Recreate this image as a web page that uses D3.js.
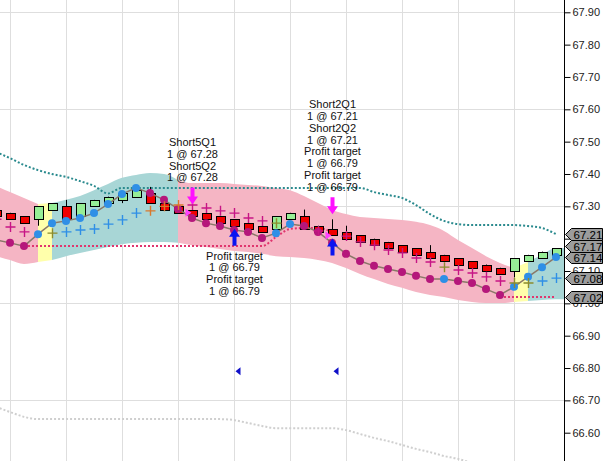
<!DOCTYPE html>
<html><head><meta charset="utf-8">
<script src="https://cdn.jsdelivr.net/npm/d3@7"></script>
<style>
html,body{margin:0;padding:0;background:#fff;}
svg{display:block;font-family:"Liberation Sans",Arial,sans-serif;}
</style></head><body>
<svg id="chart" width="610" height="461"></svg>
<script>
// ---------- DATA ----------
const opens  = [67.29,67.28,67.27,67.26,67.29,67.30,67.27,67.30,67.31,67.32,67.33,67.34,67.31,67.30,67.29,67.28,67.27,67.26,67.25,67.24,67.23,67.26,67.27,67.24,67.23,67.22,67.21,67.20,67.19,67.18,67.17,67.16,67.15,67.14,67.13,67.12,67.11,67.10,67.13,67.14,67.15];
const highs  = [67.29,67.28,67.27,67.30,67.31,67.32,67.31,67.32,67.33,67.34,67.35,67.36,67.31,67.30,67.29,67.28,67.27,67.26,67.25,67.24,67.27,67.28,67.29,67.24,67.26,67.24,67.21,67.20,67.19,67.18,67.17,67.18,67.15,67.14,67.13,67.12,67.11,67.14,67.15,67.16,67.17];
const lows   = [67.27,67.26,67.25,67.24,67.29,67.26,67.26,67.30,67.31,67.31,67.33,67.31,67.29,67.28,67.27,67.26,67.25,67.24,67.23,67.22,67.23,67.26,67.23,67.22,67.21,67.20,67.19,67.18,67.17,67.16,67.15,67.14,67.13,67.12,67.11,67.10,67.09,67.08,67.13,67.14,67.15];
const closes = [67.27,67.26,67.25,67.30,67.31,67.26,67.31,67.32,67.33,67.34,67.35,67.31,67.29,67.28,67.27,67.26,67.25,67.24,67.23,67.22,67.27,67.28,67.23,67.22,67.21,67.20,67.19,67.18,67.17,67.16,67.15,67.14,67.13,67.12,67.11,67.10,67.09,67.14,67.15,67.16,67.17];

// trend line with coloured dots
const dotValues = [67.196,67.187,67.177,67.214,67.248,67.255,67.264,67.279,67.307,67.338,67.357,67.341,67.320,67.292,67.264,67.248,67.239,67.227,67.221,67.202,67.217,67.245,67.239,67.221,67.187,67.153,67.131,67.116,67.106,67.097,67.085,67.075,67.075,67.069,67.063,67.044,67.026,67.051,67.082,67.112,67.143];
const dotKind   = ["P","P","P","B","B","B","B","B","B","B","B","P","P","P","P","P","P","P","P","P","B","B","P","P","P","P","P","P","P","P","P","P","B","P","P","P","P","B","B","B","B"];

// plus markers
const plusValues = [67.260,67.236,67.221,null,67.217,67.221,67.227,67.230,67.245,67.258,67.279,67.286,67.300,67.304,67.304,67.295,67.286,67.279,67.264,67.255,67.248,null,null,67.224,null,67.208,67.190,67.180,67.165,67.156,67.140,67.128,67.112,67.103,67.094,67.082,67.069,67.063,67.063,67.069,67.078];
const plusKind   = ["M","M","M",null,"O","B","B","B","B","B","B","R","R","R","M","M","M","M","M","M","O",null,null,"M",null,"M","M","M","M","M","M","M","O","M","M","M","M","O","O","B","B"];

// cloud band
const bandTop = [67.363,67.344,67.326,67.307,67.310,67.320,67.332,67.350,67.369,67.388,67.397,67.403,67.400,67.381,67.372,67.372,67.372,67.369,67.366,67.363,67.357,67.350,67.332,67.310,67.289,67.276,67.267,67.264,67.261,67.258,67.252,67.242,67.224,67.196,67.171,67.146,67.125,67.109,67.128,67.150,67.171];
const bandBottom = [67.146,67.134,67.122,67.128,67.134,67.146,67.156,67.165,67.174,67.183,67.187,67.190,67.190,67.187,67.180,67.174,67.168,67.162,67.159,67.153,67.146,67.143,67.140,67.134,67.125,67.109,67.091,67.075,67.060,67.048,67.035,67.026,67.020,67.010,67.004,67.001,67.001,67.004,67.007,67.010,67.013];
const bandState = ["dn","dn","dn","tr","up","up","up","up","up","up","up","up","up","dn","dn","dn","dn","dn","dn","dn","dn","dn","dn","dn","dn","dn","dn","dn","dn","dn","dn","dn","dn","dn","dn","dn","dn","tr","up","up","up"];

// dotted lines
const tealLine = [67.468,67.449,67.428,67.412,67.400,67.391,67.378,67.363,67.340,67.357,67.357,67.357,67.357,67.357,67.357,67.357,67.357,67.357,67.357,67.357,67.357,67.357,67.357,67.357,67.357,67.357,67.357,67.344,67.335,67.326,67.304,67.276,67.255,67.245,67.242,67.242,67.242,67.242,67.239,67.233,67.214];
const redLine = [null,null,67.177,67.177,67.177,67.177,67.177,67.177,67.177,67.177,67.177,67.177,67.177,67.177,67.177,67.177,67.177,67.177,67.177,67.177,67.205,67.230,67.233,67.233,67.220,null,null,null,null,null,null,null,null,null,null,null,67.02,67.02,67.02,67.02,67.02];
const grayLine = [66.680,66.664,66.649,66.642,66.642,66.642,66.642,66.642,66.642,66.642,66.642,66.642,66.642,66.642,66.642,66.642,66.642,66.639,66.630,66.621,66.614,66.614,66.614,66.614,66.614,66.608,66.596,66.584,66.574,66.562,66.550,66.540,66.528,66.519,66.506,null,null,null,null,null,null];

// trade markers
const shortEntries = [{bar:14, price:67.28, label:["Short5Q1","1 @ 67.28","Short5Q2","1 @ 67.28"]},
                      {bar:24, price:67.21, label:["Short2Q1","1 @ 67.21","Short2Q2","1 @ 67.21","Profit target","1 @ 66.79","Profit target","1 @ 66.79"]}];
const targetExits = [{bar:17, price:66.79, label:["Profit target","1 @ 66.79","Profit target","1 @ 66.79"]},
                     {bar:24, price:66.79, label:[]}];

const tickValues = [67.90,67.80,67.70,67.60,67.50,67.40,67.30,67.20,67.10,67.00,66.90,66.80,66.70,66.60];
const tickLabels = ["67.90","67.80","67.70","67.60","67.50","67.40","67.30","","67.10","67.00","66.90","66.80","66.70","66.60"];
const gridValues = [67.90,67.60,67.30,67.00,66.70];

// ---------- CHART ----------
const W = 610, H = 461, plotRight = 564;
const n = closes.length;
const x = d3.scaleLinear().domain([0, n-1]).range([-4, 556]);
const y = d3.scaleLinear().domain([67.90, 66.60]).range([12.3, 432.7]);
const px = i => Math.round(x(i));

const colors = {
  dn:"#f5b5c4", up:"#a8d6d6", tr:"#ffffab",
  P:"#b5177b", B:"#2f8fe6",
  M:"#c71585", O:"#8c8c2e", R:"#d9782c",
  green:"#96ee96", red:"#f00000"
};

const svg = d3.select("#chart");
svg.append("rect").attr("width",W).attr("height",H).attr("fill","#fff");
svg.append("defs").append("clipPath").attr("id","clip")
   .append("rect").attr("x",0).attr("y",0).attr("width",plotRight).attr("height",H);
const g = svg.append("g").attr("clip-path","url(#clip)");

// grid
g.selectAll(".vg").data(d3.range(n).filter(i => i % 4 === 1)).join("line")
  .attr("x1", i => px(i)+0.5).attr("x2", i => px(i)+0.5)
  .attr("y1",0).attr("y2",H).attr("stroke","#dedede").attr("stroke-width",1);
g.selectAll(".hg").data(gridValues).join("line")
  .attr("x1",0).attr("x2",plotRight)
  .attr("y1", d => Math.round(y(d))+0.5).attr("y2", d => Math.round(y(d))+0.5)
  .attr("stroke","#dedede").attr("stroke-width",1);

// band areas (segment i -> i+1 coloured by bandState[i])
const xEnd = x.invert(plotRight+1);
const bandPts = d3.range(n).map(i => ({i, t: bandTop[i], b: bandBottom[i]}));
bandPts.push({i: xEnd, t: bandTop[n-1], b: bandBottom[n-1]});
const area = d3.area().x(d => x(d.i)).y0(d => y(d.b)).y1(d => y(d.t)).curve(d3.curveMonotoneX);
let runs = [];
let s = 0;
for (let i = 1; i <= n; i++) {
  if (i === n || bandState[i] !== bandState[s]) { runs.push({state: bandState[s], from: s, to: i}); s = i; }
}
runs.forEach(r => {
  const pts = bandPts.slice(r.from, r.to + 1);
  g.append("path").attr("d", area(pts)).attr("fill", colors[r.state]);
});

// dotted lines
function dotted(vals, color, width) {
  const line = d3.line().defined(d => d.v != null).x(d => x(d.i)).y(d => y(d.v)).curve(d3.curveMonotoneX);
  const pts = vals.map((v,i) => ({i, v}));
  g.append("path").attr("d", line(pts)).attr("fill","none").attr("stroke",color)
   .attr("stroke-width",width).attr("stroke-dasharray","2,2");
}
dotted(grayLine, "#cfcfcf", 2);
dotted(tealLine, "#2a8a8e", 2);
dotted(redLine, "#e0356e", 2);

// candles
const candles = g.append("g");
d3.range(n).forEach(i => {
  const cx = px(i);
  const up = closes[i] >= opens[i];
  candles.append("line").attr("x1",cx+0.5).attr("x2",cx+0.5)
    .attr("y1", y(highs[i])).attr("y2", y(lows[i])).attr("stroke","#000").attr("stroke-width",1);
  const yt = Math.round(y(Math.max(opens[i],closes[i])))+0.5;
  const yb = Math.round(y(Math.min(opens[i],closes[i])))+0.5;
  candles.append("rect").attr("x",cx-4+0.5).attr("y",yt).attr("width",9).attr("height",Math.max(1,yb-yt))
    .attr("fill", up ? colors.green : colors.red).attr("stroke","#000").attr("stroke-width",1);
});

// trend line + dots
g.append("path").attr("d", d3.line().x((d,i)=>x(i)).y(d=>y(d))(dotValues))
  .attr("fill","none").attr("stroke","#8a7868").attr("stroke-width",1.5);
g.selectAll(".dot").data(dotValues).join("circle")
  .attr("cx",(d,i)=>x(i)).attr("cy",d=>y(d)).attr("r",4)
  .attr("fill",(d,i)=>colors[dotKind[i]]);

// plus markers
d3.range(n).filter(i => plusValues[i] != null).forEach(i => {
  const cx = px(i)+0.5, cy = y(plusValues[i]);
  g.append("path").attr("d",`M${cx-5},${cy}H${cx+5}M${cx},${cy-5}V${cy+5}`)
   .attr("stroke",colors[plusKind[i]]).attr("stroke-width",1.4).attr("fill","none");
});

// short entry arrows (down, magenta) + fill triangles + labels
shortEntries.forEach(e => {
  const cx = px(e.bar)+0.5;
  const ty = y(highs[e.bar]) - 5;
  g.append("path").attr("d",`M${cx-2},${ty-17}H${cx+2}V${ty-8}H${cx+5.5}L${cx},${ty}L${cx-5.5},${ty-8}H${cx-2}Z`)
   .attr("fill","#ff10ff");
  const fy = y(e.price);
  g.append("path").attr("d",`M${cx-1},${fy}L${cx-7},${fy-4}V${fy+4}Z`).attr("fill","#ff40ff");
  const L = e.label.length;
  e.label.forEach((t,k) => {
    g.append("text").attr("x",cx).attr("y", ty-27-(L-1-k)*11.9).attr("dy","0.35em")
     .attr("text-anchor","middle").attr("font-size","11px").attr("fill","#111").text(t);
  });
});

// profit target arrows (up, blue) + pending order triangles + labels
targetExits.forEach(e => {
  const cx = px(e.bar)+0.5;
  const ty = y(lows[e.bar]) + 3;
  g.append("path").attr("d",`M${cx-2},${ty+17}H${cx+2}V${ty+8}H${cx+5.5}L${cx},${ty}L${cx-5.5},${ty+8}H${cx-2}Z`)
   .attr("fill","#0a14f0");
  const oy = y(e.price);
  g.append("path").attr("d",`M${cx+1},${oy}L${cx+6},${oy-4}V${oy+4}Z`).attr("fill","#1010c8");
  e.label.forEach((t,k) => {
    g.append("text").attr("x",cx).attr("y", ty+27+k*11.9).attr("dy","0.35em")
     .attr("text-anchor","middle").attr("font-size","11px").attr("fill","#111").text(t);
  });
});

// right axis
const axisG = svg.append("g").attr("transform",`translate(${plotRight+0.5},0)`)
  .call(d3.axisRight(y).tickValues(tickValues).tickFormat((d,i)=>tickLabels[i]).tickSize(6).tickPadding(2));
axisG.select(".domain").remove();
axisG.selectAll("text").attr("font-size","11px").attr("fill","#222").attr("font-family","'Liberation Sans',Arial,sans-serif");
axisG.selectAll(".tick line").attr("stroke","#000");
svg.append("line").attr("x1",plotRight+0.5).attr("x2",plotRight+0.5).attr("y1",0).attr("y2",H).attr("stroke","#000");

// last-value tags
const tags = [
  {v: tealLine[n-1]},
  {v: dotValues[n-1]},
  {v: closes[n-1]},
  {v: plusValues[n-1]},
  {v: redLine[n-1]}
];
tags.forEach(t => t.y = y(t.v));
const sorted = tags.slice().sort((a,b)=>a.y-b.y);
for (let k = sorted.length-2; k >= 0; k--) {
  if (sorted[k].y > sorted[k+1].y - 11) sorted[k].y = sorted[k+1].y - 11;
}
tags.forEach(t => {
  const x0 = plotRight + 1.5, yy = Math.round(t.y)+0.5;
  svg.append("path").attr("d",`M${x0},${yy}L${x0+6},${yy-6}H${x0+37}V${yy+6}H${x0+6}Z`)
    .attr("fill","#9c9c9c").attr("stroke","#000").attr("stroke-width",1);
  svg.append("text").attr("x",x0+8).attr("y",yy).attr("dy","0.36em").attr("font-size","11.5px")
    .attr("fill","#000").text(d3.format(".2f")(t.v));
});
</script>
</body></html>
